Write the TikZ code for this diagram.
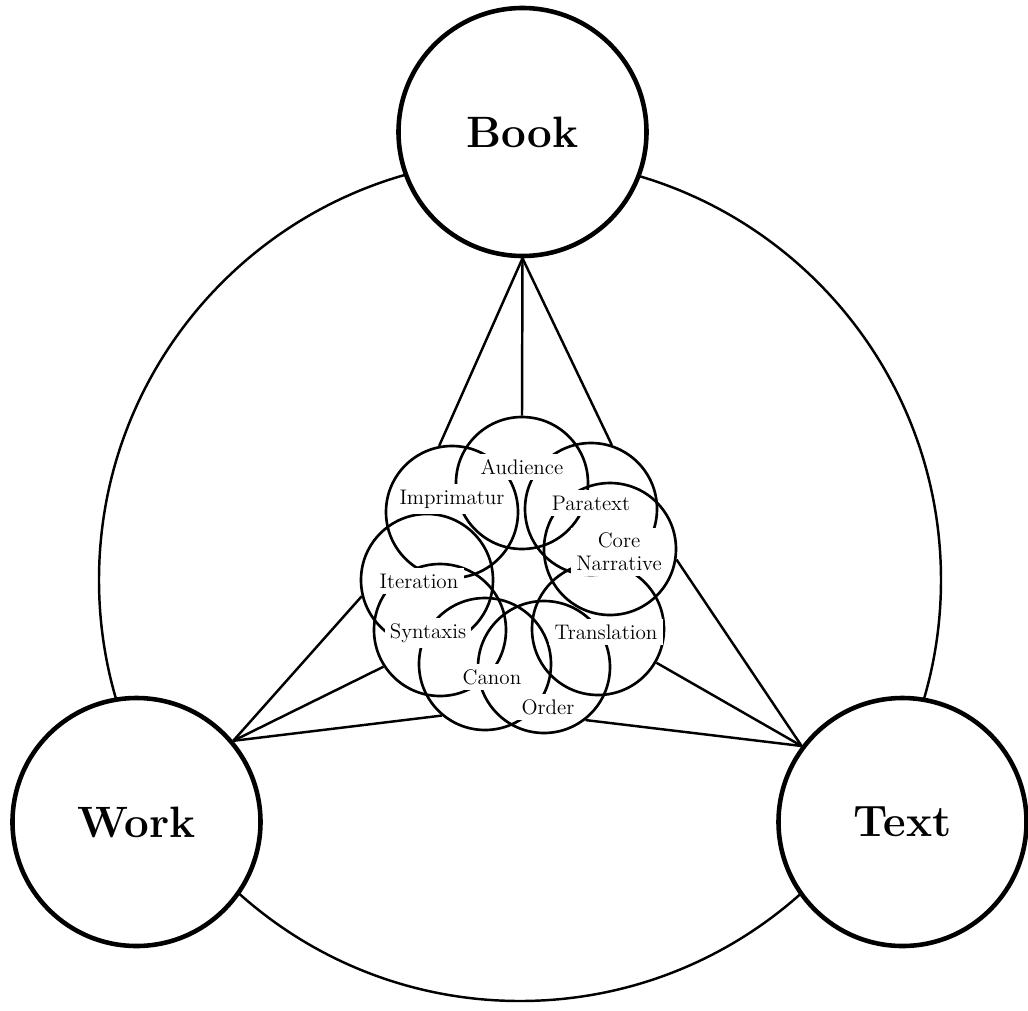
\documentclass[tikz,border=0pt]{standalone}
\usepackage{tikz}
\usetikzlibrary{positioning,
  calc}

\begin{document}
\begin{tikzpicture}[
    big/.style={circle, draw, line width=2.6pt, fill=white, minimum size=4.96cm,
      inner sep=0pt, font=\fontsize{25}{30}\selectfont\bfseries},
    ring/.style={circle, draw, line width=1.5pt, minimum size=2.64cm, inner sep=0pt},
    tag/.style={fill=white, inner sep=3pt, align=center,
      font=\fontsize{12}{13}\selectfont},
    link/.style={line width=1.4pt}
  ]

  \useasboundingbox (-10.4,-8.6) rectangle (10.16,11.6);

  % Outer circle
  \draw [line width=1.4pt] (0,0) circle (8.42);

  % Main nodes (white fill hides the outer circle)
  \node [big] (book) at (0.05,8.96)   {Book};
  \node [big] (work) at (-7.67,-4.84) {Work};
  \node [big] (text) at (7.65,-4.84)  {Text};

  % Ring of small circles
  \node [ring] (aud) at (0.04,1.94)   {};
  \node [ring] (par) at (1.42,1.42)   {};
  \node [ring] (cor) at (1.80,0.62)   {};
  \node [ring] (tra) at (1.56,-0.98)  {};
  \node [ring] (ord) at (0.48,-1.74)  {};
  \node [ring] (can) at (-0.70,-1.68) {};
  \node [ring] (syn) at (-1.60,-1.00) {};
  \node [ring] (ite) at (-1.86,0.00)  {};
  \node [ring] (imp) at (-1.36,1.36)  {};

  % Links from the main nodes
  \draw [link] (book.south) -- (imp.101);
  \draw [link] (book.south) -- (aud.90);
  \draw [link] (book.south) -- (par.72);

  \draw [link] (work.40) -- (ite.194);
  \draw [link] (work.40) -- (syn.213);
  \draw [link] (work.40) -- (can.230);

  \draw [link] (text.143) -- (cor.351);
  \draw [link] (text.143) -- (tra.330);
  \draw [link] (text.143) -- (ord.308);

  % Labels
  \node [tag] (aud-t) at (0.04,2.26)   {Audience};
  \node [tag] (imp-t) at (-1.36,1.62)  {Imprimatur};
  \node [tag] (par-t) at (1.42,1.54)   {Paratext};
  \node [tag] (cor-t) at (1.98,0.56)   {Core\\Narrative};
  \node [tag] (ite-t) at (-2.02,-0.02) {Iteration};
  \node [tag] (syn-t) at (-1.84,-1.06) {Syntaxis};
  \node [tag] (tra-t) at (1.72,-1.04)  {Translation};
  \node [tag] (can-t) at (-0.56,-1.94) {Canon};
  \node [tag] (ord-t) at (0.56,-2.54)  {Order};

\end{tikzpicture}
\end{document}
